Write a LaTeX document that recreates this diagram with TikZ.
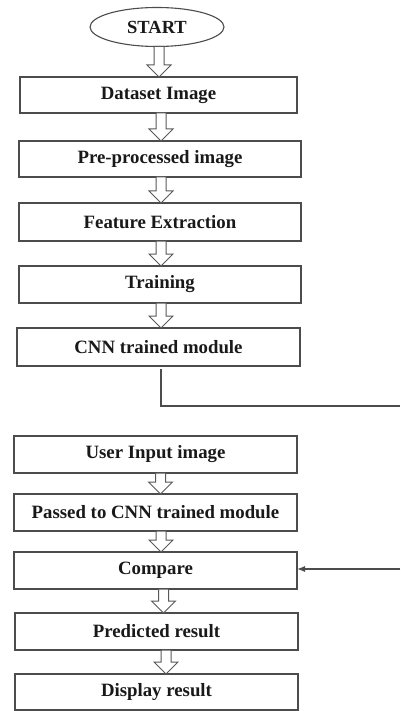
\documentclass[tikz,border=0pt]{standalone}
\usepackage{fontspec}
\setmainfont{Liberation Serif}
\usetikzlibrary{calc,arrows.meta,shapes.geometric}
\tikzset{
  boxnode/.style={draw=black!70, line width=1.1pt, fill=white, minimum height=37pt,
    inner sep=0pt, outer sep=0pt, font=\fontsize{18.8}{22}\selectfont\bfseries, text=black!90},
  startnode/.style={ellipse, draw=black!70, line width=1.1pt, fill=white, minimum width=134pt,
    minimum height=39pt, inner sep=0pt, outer sep=0pt, font=\fontsize{18.5}{22}\selectfont\bfseries, text=black!90},
  barrow/.style={draw=black!65, line width=1pt, fill=white, line join=miter},
  link/.style={draw=black!70, line width=1.1pt},
}
\newcommand{\blockarrow}[3]{%
  \path (#3,0) coordinate (ax);
  \draw[barrow] let \p1=(ax |- #1.south), \p2=(ax |- #2.north) in
    (\x1-5pt,\y1) -- (\x1-5pt,\y2+12pt) -- (\x1-12pt,\y2+12pt) -- (\x1,\y2)
    -- (\x1+12pt,\y2+12pt) -- (\x1+5pt,\y2+12pt) -- (\x1+5pt,\y1) -- cycle;
}
\begin{document}
\begin{tikzpicture}[x=1pt,y=-1pt]
\useasboundingbox (0,0) rectangle (400,711);
\node[startnode] (start) at (157,27) {START};
\node[boxnode, minimum width=277pt, minimum height=36pt] (ds) at (158.5,95) {Dataset Image};
\node[boxnode, minimum width=282pt, minimum height=36pt] (pre) at (160,159) {Pre-processed image};
\node[boxnode, minimum width=282pt, minimum height=38pt] (fe) at (160,222) {Feature Extraction};
\node[boxnode, minimum width=282pt] (tr) at (160,284.5) {Training};
\node[boxnode, minimum width=283pt, minimum height=38pt] (cnn) at (158.5,347) {CNN trained module};
\node[boxnode, minimum width=283pt] (ui) at (155.5,454.5) {User Input image};
\node[boxnode, minimum width=283pt] (pass) at (155.5,512.5) {Passed to CNN trained module};
\node[boxnode, minimum width=283pt] (cmp) at (155.5,570.5) {Compare};
\node[boxnode, minimum width=283pt] (pred) at (156.5,631.5) {Predicted result};
\node[boxnode, minimum width=283pt, minimum height=36pt] (disp) at (156.5,692) {Display result};

\blockarrow{start}{ds}{159}
\blockarrow{ds}{pre}{161}
\blockarrow{pre}{fe}{161}
\blockarrow{fe}{tr}{161}
\blockarrow{tr}{cnn}{161}
\blockarrow{ui}{pass}{160.5}
\blockarrow{pass}{cmp}{161}
\blockarrow{cmp}{pred}{163.5}
\blockarrow{pred}{disp}{166}

\coordinate (c1) at (161,369);
\coordinate (c2) at (400,406);
\coordinate (c3) at (400,569);
\draw[link] ($(cnn.south -| c1)+(0,3)$) |- (c2);
\draw[link, -{Latex[length=8pt,width=6pt]}] (c3) -- (cmp.east |- c3);
\end{tikzpicture}
\end{document}
